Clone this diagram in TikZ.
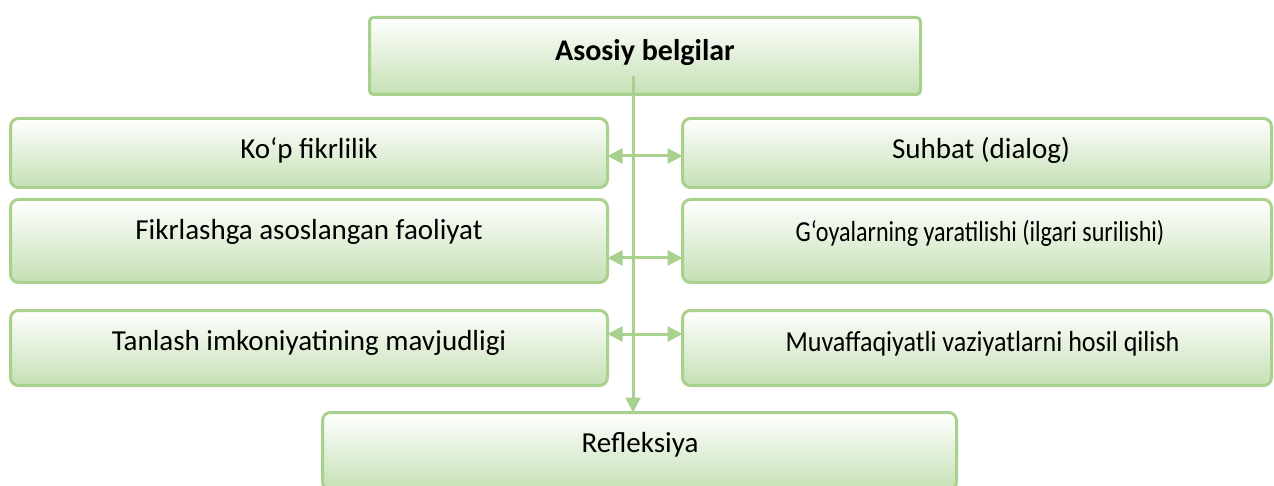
\documentclass[tikz,border=0pt]{standalone}
\usepackage{fontspec}
\setmainfont{Carlito}
\usepackage{graphicx}
\usetikzlibrary{arrows.meta}
\definecolor{boxline}{HTML}{A9D18E}
\definecolor{boxfill}{HTML}{C5E0B4}

\begin{document}
\begin{tikzpicture}[x=1pt,y=-1pt,inner sep=0pt,outer sep=0pt,
box/.style={draw=boxline,line width=3pt,rectangle,rounded corners=8pt,top color=white,bottom color=boxfill},
txt/.style={anchor=base,font=\fontsize{29}{33}\selectfont},
link/.style={draw=boxline,line width=3pt,-{Triangle[length=15pt,width=15pt]}},
twoway/.style={link,{Triangle[length=15pt,width=15pt]}-{Triangle[length=15pt,width=15pt]}}]
\useasboundingbox (0,0) rectangle (1274,486);
% boxes
\draw (645,56) node[box,rounded corners=4pt,minimum width=551pt,minimum height=77pt] (head) {};
\draw (309,153) node[box,minimum width=597pt,minimum height=69pt] (kop) {};
\draw (309,241) node[box,minimum width=597pt,minimum height=83pt] (fikr) {};
\draw (309,348) node[box,minimum width=597pt,minimum height=75pt] (tanlash) {};
\draw (977,153) node[box,minimum width=589pt,minimum height=69pt] (suhbat) {};
\draw (977,241) node[box,minimum width=589pt,minimum height=83pt] (goya) {};
\draw (977,348) node[box,minimum width=589pt,minimum height=75pt] (muvaf) {};
\draw (639.5,451.25) node[box,minimum width=634pt,minimum height=77.5pt] (refl) {};
% texts
\draw (645,61) node[anchor=base,font=\bfseries\fontsize{30}{34}\selectfont] (headT) {Asosiy belgilar};
\draw (309,158.3) node[txt] (kopT) {Ko‘p fikrlilik};
\draw (309,240) node[txt] (fikrT) {Fikrlashga asoslangan faoliyat};
\draw (309,350.7) node[txt] (tanlashT) {Tanlash imkoniyatining mavjudligi};
\draw (981,159) node[txt] (suhbatT) {Suhbat (dialog)};
\draw (980,241.7) node[txt] (goyaT) {\scalebox{0.83}[1]{G‘oyalarning yaratilishi (ilgari surilishi)}};
\draw (982.5,351.7) node[txt] (muvafT) {\scalebox{0.9}[1]{Muvaffaqiyatli vaziyatlarni hosil qilish}};
\draw (640,452.3) node[txt] (reflT) {Refleksiya};
% connectors
\coordinate (trunk) at (633,76);
\coordinate (j1) at (633,156);
\coordinate (j2) at (633,258);
\coordinate (j3) at (633,334);
\draw[link] (trunk) -- (trunk |- refl.north);
\draw[twoway] (kop.east |- j1) -- (suhbat.west |- j1);
\draw[twoway] (fikr.east |- j2) -- (goya.west |- j2);
\draw[twoway] (tanlash.east |- j3) -- (muvaf.west |- j3);
\end{tikzpicture}
\end{document}
